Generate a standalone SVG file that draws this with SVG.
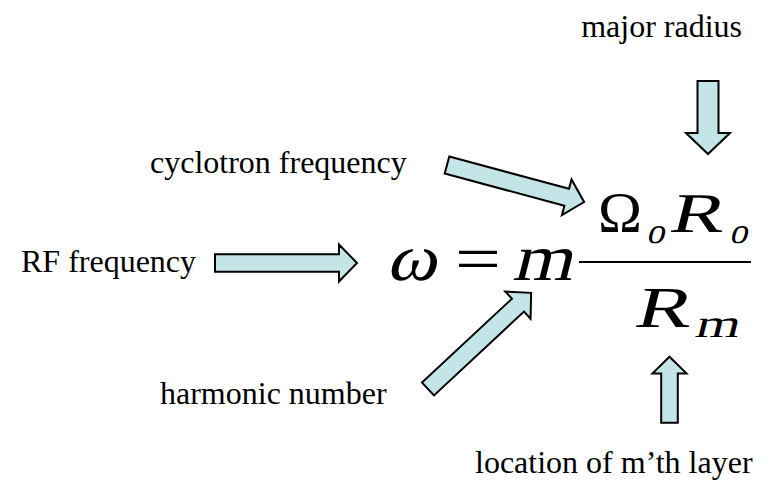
<svg xmlns="http://www.w3.org/2000/svg" width="769" height="480" viewBox="0 0 769 480">
<style>
.lbl{font-family:"Liberation Serif","Times New Roman",serif;font-size:32px;fill:#000}
.arr{fill:#c4e5e8;stroke:#000;stroke-width:2;stroke-linejoin:miter}
.m{font-family:"Liberation Serif","Times New Roman",serif;fill:#000}
</style>
<rect width="769" height="480" fill="#fff"/>
<g id="label-major-radius"><text class="lbl" x="742" y="37" text-anchor="end">major radius</text></g>
<g id="label-cyclotron"><text class="lbl" x="150" y="173">cyclotron frequency</text></g>
<g id="label-rf"><text class="lbl" x="21" y="272">RF frequency</text></g>
<g id="label-harmonic"><text class="lbl" x="160" y="404">harmonic number</text></g>
<g id="label-location"><text class="lbl" x="475" y="473">location of m’th layer</text></g>
<g id="equation">
<text class="m" transform="translate(386,280) skewX(-14)" font-size="66" textLength="50" lengthAdjust="spacingAndGlyphs">ω</text>
<text class="m" x="455" y="281" font-size="66" textLength="46" lengthAdjust="spacingAndGlyphs">=</text>
<text class="m" transform="translate(512,280) skewX(-14)" font-size="66" textLength="60" lengthAdjust="spacingAndGlyphs">m</text>
<line x1="579" y1="262" x2="751" y2="262" stroke="#000" stroke-width="2"/>
<text class="m" x="598" y="232" font-size="56" textLength="44" lengthAdjust="spacingAndGlyphs">Ω</text>
<text class="m" transform="translate(646,243) skewX(-14)" font-size="36">o</text>
<text class="m" transform="translate(668,232) skewX(-14)" font-size="56" textLength="54" lengthAdjust="spacingAndGlyphs">R</text>
<text class="m" transform="translate(729,243) skewX(-14)" font-size="36">o</text>
<text class="m" transform="translate(633,327) skewX(-14)" font-size="58" textLength="56" lengthAdjust="spacingAndGlyphs">R</text>
<text class="m" transform="translate(694,337) skewX(-14)" font-size="40" textLength="44" lengthAdjust="spacingAndGlyphs">m</text>
</g>
<g id="connectors">
<path class="arr" transform="translate(215,263)" d="M0,-8.8 L124,-8.8 L124,-18.5 L142,0 L124,18.5 L124,8.8 L0,8.8 Z"/>
<path class="arr" transform="translate(447,165) rotate(15.1)" d="M0,-8.8 L124,-8.8 L124,-18.5 L142,0 L124,18.5 L124,8.8 L0,8.8 Z"/>
<path class="arr" transform="translate(428,389) rotate(-43)" d="M0,-8.8 L123,-8.8 L123,-18.5 L141,0 L123,18.5 L123,8.8 L0,8.8 Z"/>
<path class="arr" transform="translate(708,81) rotate(90)" d="M0,-10.5 L52,-10.5 L52,-22 L73,0 L52,22 L52,10.5 L0,10.5 Z"/>
<path class="arr" transform="translate(669.5,422.7) rotate(-90)" d="M0,-8.3 L49.3,-8.3 L49.3,-17 L66,0 L49.3,17 L49.3,8.3 L0,8.3 Z"/>
</g>
</svg>
